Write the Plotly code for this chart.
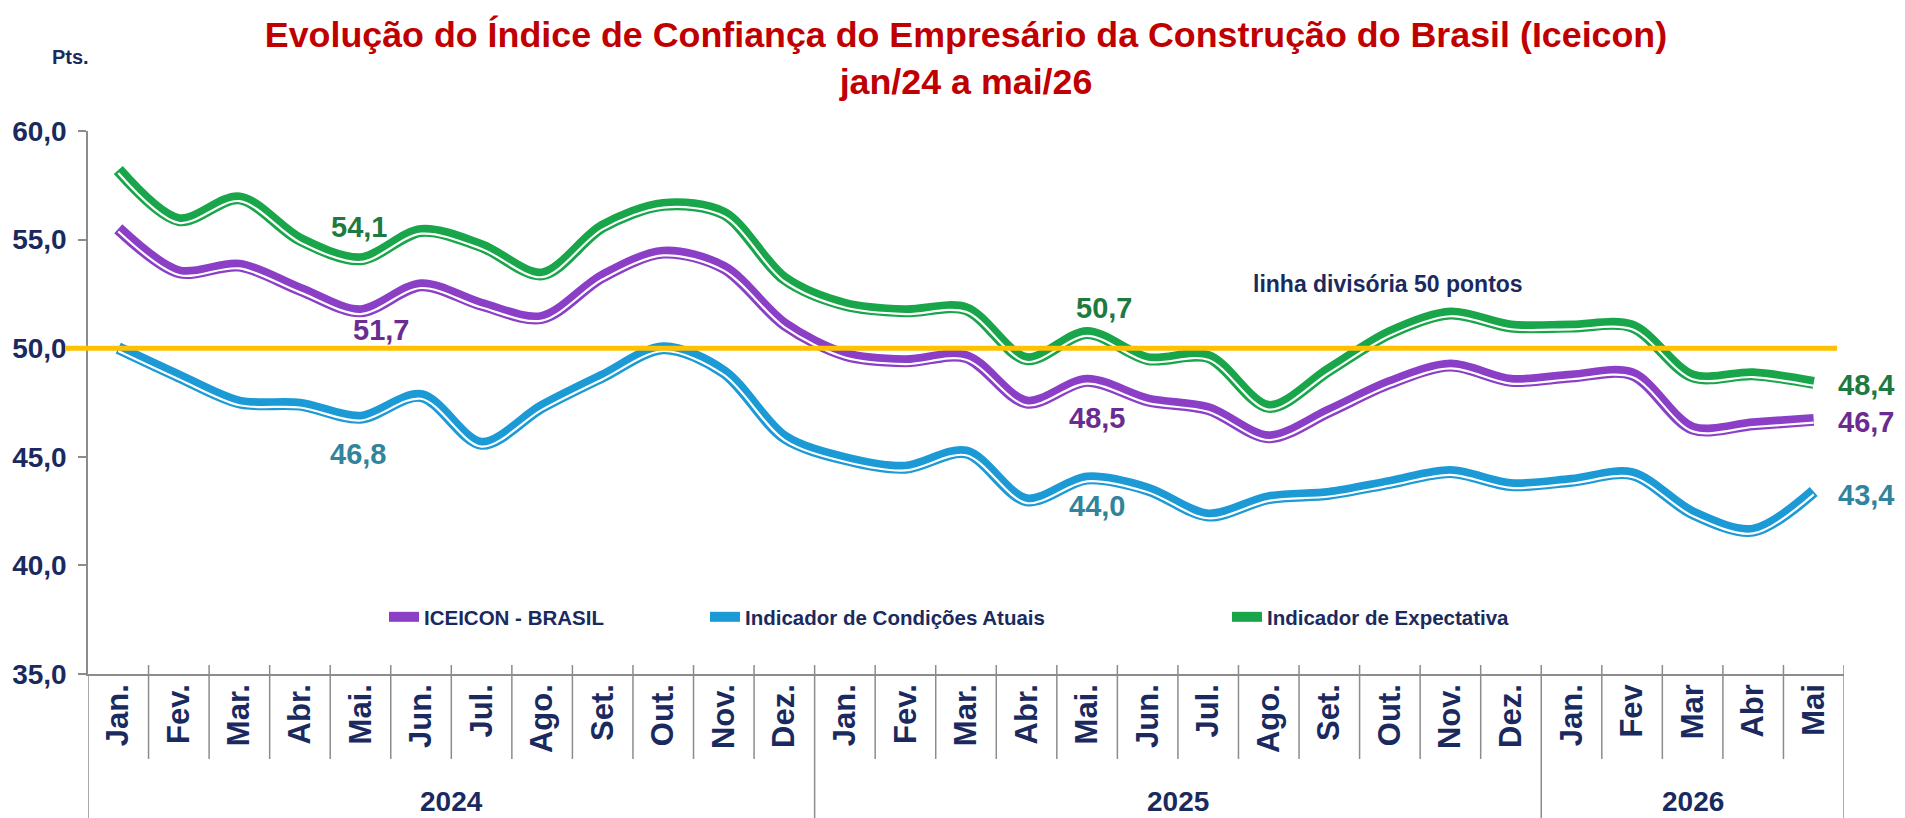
import plotly.graph_objects as go

# ---------------- data ----------------
MONTHS = ["Jan.", "Fev.", "Mar.", "Abr.", "Mai.", "Jun.", "Jul.", "Ago.", "Set.", "Out.", "Nov.", "Dez.",
          "Jan.", "Fev.", "Mar.", "Abr.", "Mai.", "Jun.", "Jul.", "Ago.", "Set.", "Out.", "Nov.", "Dez.",
          "Jan.", "Fev", "Mar", "Abr", "Mai"]
YEARS = ["2024"] * 12 + ["2025"] * 12 + ["2026"] * 5

ICEICON = [55.5, 53.5, 53.8, 52.7, 51.7, 52.9, 52.0, 51.4, 53.3, 54.4, 53.7, 51.1,
           49.7, 49.4, 49.6, 47.5, 48.5, 47.6, 47.2, 45.9, 47.1, 48.4, 49.2, 48.5,
           48.7, 48.8, 46.3, 46.5, 46.7]
CONDICOES = [50.0, 48.7, 47.5, 47.4, 46.8, 47.8, 45.6, 47.3, 48.7, 50.0, 48.9, 45.9,
             44.9, 44.5, 45.2, 43.0, 44.0, 43.5, 42.3, 43.1, 43.3, 43.8, 44.3, 43.7,
             43.9, 44.2, 42.4, 41.6, 43.4]
EXPECTATIVA = [58.2, 55.9, 56.9, 55.0, 54.1, 55.4, 54.7, 53.4, 55.6, 56.6, 56.2, 53.2,
               52.0, 51.7, 51.8, 49.5, 50.7, 49.5, 49.6, 47.3, 49.0, 50.7, 51.6, 51.0,
               51.0, 51.0, 48.7, 48.8, 48.4]
SERIES_NAMES = ["ICEICON - BRASIL", "Indicador de Condições Atuais", "Indicador de Expectativa"]
Y_TICKS = [35, 40, 45, 50, 55, 60]
LINHA_DIVISORIA = 50

# ---------------- style ----------------
W, H = 1905, 818
ML, MR, MT, MB = 88, 61, 131, 144
PLOT_H = H - MT - MB
PLOT_W = W - ML - MR
Y_MIN, Y_MAX = 35, 60
PX_PER_UNIT = PLOT_H / (Y_MAX - Y_MIN)

NAVY = "#1B2A5E"
GRAY = "#8C8C8C"
FONT = "Liberation Sans, Arial, sans-serif"

COLORS = ["#8B3FC6", "#1C9AD6", "#19A64A"]
LABEL_COLORS = ["#6A2C91", "#31849B", "#1E7A3E"]
DATA = [ICEICON, CONDICOES, EXPECTATIVA]

x = list(range(len(MONTHS)))
white_off = 2.8 / PX_PER_UNIT

fig = go.Figure()
legends = ["legend", "legend2", "legend3"]
for k in range(3):
    fig.add_trace(go.Scatter(
        x=x, y=DATA[k], mode="lines", name=SERIES_NAMES[k],
        line=dict(color=COLORS[k], width=12, shape="spline", smoothing=0.9),
        legend=legends[k], hoverinfo="skip"))
    fig.add_trace(go.Scatter(
        x=x, y=[v - white_off for v in DATA[k]], mode="lines", showlegend=False,
        line=dict(color="white", width=2.2, shape="spline", smoothing=0.9),
        hoverinfo="skip"))


def px_to_paper_x(px):
    return (px - ML) / PLOT_W


def px_to_paper_y(py):
    return (H - MB - py) / PLOT_H


fig.update_layout(
    width=W, height=H,
    margin=dict(l=ML, r=MR, t=MT, b=MB, pad=0),
    paper_bgcolor="white", plot_bgcolor="white",
    separators=", ",
    title=dict(
        text="Evolução do Índice de Confiança do Empresário da Construção do Brasil (Iceicon)<br>jan/24 a mai/26",
        x=0.5, xref="paper", xanchor="center",
        y=1 - 47 / H, yref="container", yanchor="middle",
        font=dict(family=FONT, size=35.8, color="#C00000", weight="bold")),
    xaxis=dict(
        range=[-0.5, len(MONTHS) - 0.5], tickmode="array", tickvals=x, ticktext=MONTHS,
        tickangle=-90, showgrid=False, zeroline=False, showline=True,
        linecolor=GRAY, linewidth=1.5, ticks="", ticklen=0, ticklabelstandoff=-4,
        tickfont=dict(family=FONT, size=31, color=NAVY, weight="bold")),
    yaxis=dict(
        range=[Y_MIN, Y_MAX], tickmode="array", tickvals=Y_TICKS, tickformat=".1f",
        showgrid=False, zeroline=False, showline=True, linecolor=GRAY, linewidth=1.5,
        ticks="outside", ticklen=8, tickcolor=GRAY, tickwidth=1.5, ticklabelstandoff=6,
        tickfont=dict(family=FONT, size=28, color=NAVY, weight="bold")),
)

leg_x = [384, 705, 1227]
for k, name in enumerate(legends):
    fig.update_layout({name: dict(
        x=px_to_paper_x(leg_x[k]), y=px_to_paper_y(617), xanchor="left", yanchor="middle",
        orientation="h", bgcolor="rgba(0,0,0,0)", borderwidth=0,
        font=dict(family=FONT, size=20.5, color=NAVY, weight="bold"))})

# orange 50-point dividing line
fig.add_shape(type="line", xref="paper", yref="y", x0=px_to_paper_x(65), x1=px_to_paper_x(1837),
              y0=LINHA_DIVISORIA, y1=LINHA_DIVISORIA,
              line=dict(color="#FFC000", width=5), layer="above")

# category dividers below the x axis
n = len(MONTHS)
for i in range(n + 1):
    xb = i - 0.5
    is_year = i == 0 or i == n or YEARS[i] != YEARS[i - 1]
    y_bottom = px_to_paper_y(H) if is_year else px_to_paper_y(759)
    fig.add_shape(type="line", xref="x", yref="paper", x0=xb, x1=xb,
                  y0=px_to_paper_y(665) if i > 0 else 0, y1=y_bottom,
                  line=dict(color=GRAY, width=1.5), layer="below")

# year labels
for yr in dict.fromkeys(YEARS):
    idx = [i for i, v in enumerate(YEARS) if v == yr]
    fig.add_annotation(x=(idx[0] + idx[-1]) / 2, xref="x", y=px_to_paper_y(801), yref="paper",
                       text=yr, showarrow=False, yanchor="middle",
                       font=dict(family=FONT, size=28, color=NAVY, weight="bold"))


def fmt(v):
    return f"{v:.1f}".replace(".", ",")


offsets = {  # (series, idx): (xshift, yshift, xanchor)
    (2, 4): (-1, 32, "center"), (0, 4): (21, -19, "center"), (1, 4): (-2, -36, "center"),
    (2, 16): (17, 25, "center"), (0, 16): (10, -37, "center"), (1, 16): (10, -27, "center"),
    (2, 28): (22, -2, "left"), (0, 28): (22, -2, "left"), (1, 28): (22, -3, "left"),
}
for (k, i), (xs, ys, xa) in offsets.items():
    fig.add_annotation(x=i, y=DATA[k][i], xref="x", yref="y", text=fmt(DATA[k][i]),
                       showarrow=False, xshift=xs, yshift=ys, xanchor=xa, yanchor="middle",
                       font=dict(family=FONT, size=29, color=LABEL_COLORS[k], weight="bold"))

fig.add_annotation(x=21, y=LINHA_DIVISORIA, xref="x", yref="y", text="linha divisória 50 pontos",
                   showarrow=False, xshift=-2, yshift=64, yanchor="middle",
                   font=dict(family=FONT, size=23, color=NAVY, weight="bold"))
fig.add_annotation(x=px_to_paper_x(70), y=px_to_paper_y(57), xref="paper", yref="paper", text="Pts.",
                   showarrow=False, yanchor="middle", xanchor="center",
                   font=dict(family=FONT, size=20, color=NAVY, weight="bold"))

fig.write_html("out.html", config={"displayModeBar": False},
               post_script="document.body.style.margin='0';")
